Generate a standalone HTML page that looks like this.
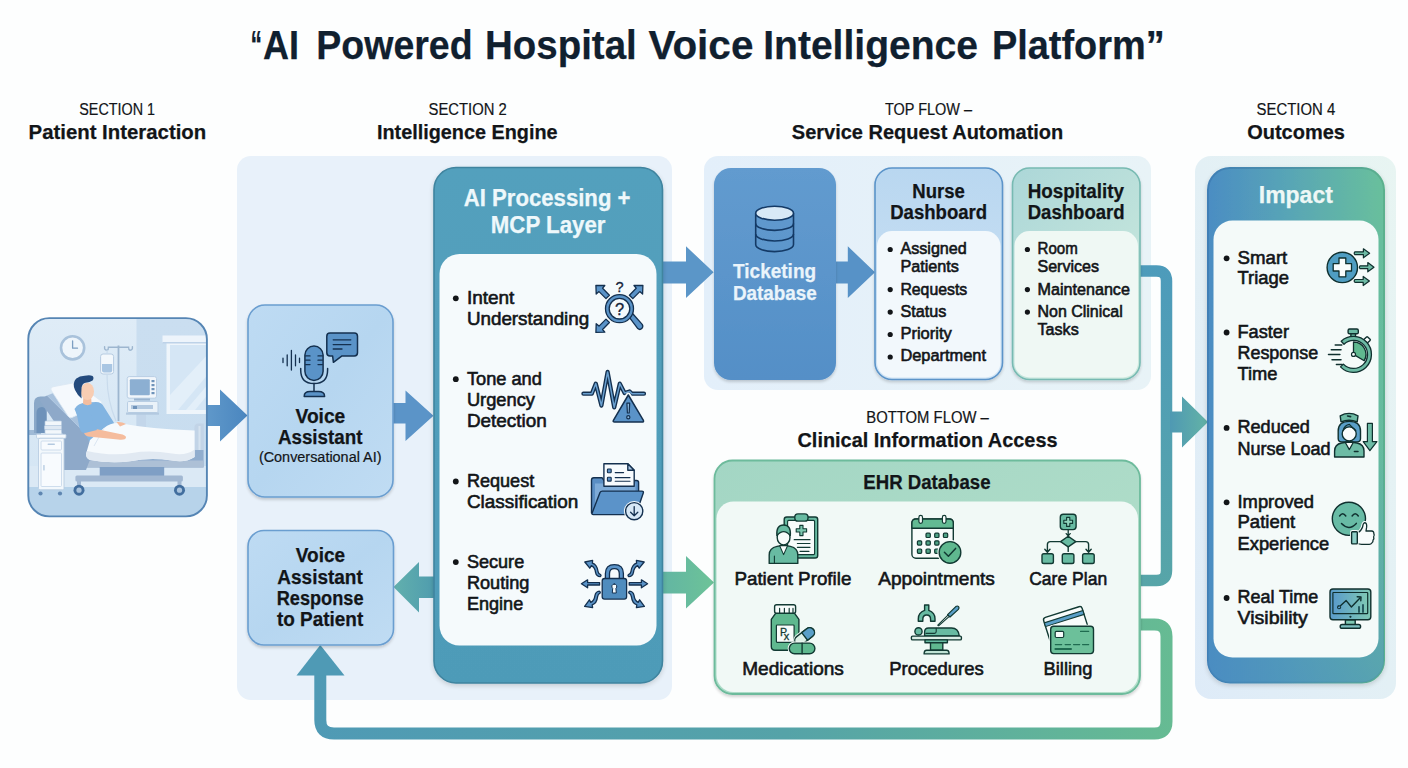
<!DOCTYPE html>
<html lang="en">
<head>
<meta charset="utf-8">
<title>AI Powered Hospital Voice Intelligence Platform</title>
<style>
html,body{margin:0;padding:0;background:#fdfefe;}
body{width:1408px;height:768px;overflow:hidden;font-family:"Liberation Sans",sans-serif;}
svg{display:block;}
text{font-family:"Liberation Sans",sans-serif;}
.b{font-weight:700;}
.m{text-anchor:middle;}
.w{fill:#f4fafc;}
</style>
</head>
<body>
<svg width="1408" height="768" viewBox="0 0 1408 768">
<!-- defs -->
<defs>
<linearGradient id="gAI" x1="0" y1="0" x2="0" y2="1"><stop offset="0" stop-color="#53a0bd"/><stop offset="1" stop-color="#4e9bb8"/></linearGradient>
<linearGradient id="gVoice" x1="0" y1="0" x2="1" y2="1"><stop offset="0" stop-color="#bedbf3"/><stop offset="0.5" stop-color="#b6d6f0"/><stop offset="1" stop-color="#c0dcf3"/></linearGradient>
<linearGradient id="gTick" x1="0" y1="0" x2="0" y2="1"><stop offset="0" stop-color="#629bcf"/><stop offset="1" stop-color="#548fc7"/></linearGradient>
<linearGradient id="gNurse" x1="0" y1="0" x2="0" y2="1"><stop offset="0" stop-color="#b9d7f0"/><stop offset="1" stop-color="#d0e4f5"/></linearGradient>
<linearGradient id="gHosp" x1="0" y1="0" x2="0.6" y2="1"><stop offset="0" stop-color="#acd7d8"/><stop offset="1" stop-color="#cbe9dd"/></linearGradient>
<linearGradient id="gEHR" x1="0" y1="0" x2="1" y2="1"><stop offset="0" stop-color="#a3d6c4"/><stop offset="1" stop-color="#b5e0cb"/></linearGradient>
<linearGradient id="gImpact" x1="0" y1="0" x2="1" y2="0"><stop offset="0" stop-color="#4b8dc3"/><stop offset="0.45" stop-color="#58a5b6"/><stop offset="1" stop-color="#69c09c"/></linearGradient>
<linearGradient id="gImpactV" x1="0" y1="0" x2="0" y2="1"><stop offset="0" stop-color="#4a8cc0" stop-opacity="0"/><stop offset="0.55" stop-color="#4a8cc0" stop-opacity="0.08"/><stop offset="1" stop-color="#4a8cc0" stop-opacity="0.55"/></linearGradient>
<linearGradient id="gImpactS" x1="0" y1="0" x2="1" y2="0"><stop offset="0" stop-color="#3f7fb6"/><stop offset="0.5" stop-color="#4d93a8"/><stop offset="1" stop-color="#5cb18d"/></linearGradient>
<linearGradient id="gArrB" x1="0" y1="0" x2="1" y2="0"><stop offset="0" stop-color="#5f98ca"/><stop offset="1" stop-color="#4a86bf"/></linearGradient>
<linearGradient id="gArrG" x1="0" y1="0" x2="1" y2="0"><stop offset="0" stop-color="#62b5a3"/><stop offset="1" stop-color="#6dc398"/></linearGradient>
<linearGradient id="gArrT" x1="0" y1="0" x2="1" y2="0"><stop offset="0" stop-color="#62b0ad"/><stop offset="1" stop-color="#4f9cae"/></linearGradient>
<linearGradient id="gArrI" x1="0" y1="0" x2="1" y2="0"><stop offset="0" stop-color="#4f99b3"/><stop offset="1" stop-color="#63b3a6"/></linearGradient>
<linearGradient id="gConn1" gradientUnits="userSpaceOnUse" x1="0" y1="265" x2="0" y2="586"><stop offset="0" stop-color="#4d9bbb"/><stop offset="1" stop-color="#57a5a8"/></linearGradient>
<linearGradient id="gConn2" gradientUnits="userSpaceOnUse" x1="314" y1="0" x2="1172" y2="0"><stop offset="0" stop-color="#4f9ab5"/><stop offset="0.55" stop-color="#55a3a8"/><stop offset="1" stop-color="#66bb93"/></linearGradient>
<linearGradient id="gPanelTop" x1="0" y1="0" x2="1" y2="0"><stop offset="0" stop-color="#e3effa"/><stop offset="1" stop-color="#e8f3f7"/></linearGradient>
<linearGradient id="gPanel4" x1="0" y1="1" x2="1" y2="0"><stop offset="0" stop-color="#deebf8"/><stop offset="1" stop-color="#e8f5f2"/></linearGradient>
<filter id="sh" x="-10%" y="-10%" width="120%" height="125%"><feGaussianBlur in="SourceAlpha" stdDeviation="2.5"/><feOffset dy="2"/><feComponentTransfer><feFuncA type="linear" slope="0.16"/></feComponentTransfer><feMerge><feMergeNode/><feMergeNode in="SourceGraphic"/></feMerge></filter>
<filter id="sh2" x="-10%" y="-10%" width="120%" height="125%"><feGaussianBlur in="SourceAlpha" stdDeviation="1.5"/><feOffset dy="1.5"/><feComponentTransfer><feFuncA type="linear" slope="0.18"/></feComponentTransfer><feMerge><feMergeNode/><feMergeNode in="SourceGraphic"/></feMerge></filter>
<linearGradient id="gWallL" x1="0" y1="0" x2="0" y2="1"><stop offset="0" stop-color="#dfecf7"/><stop offset="1" stop-color="#d2e4f3"/></linearGradient>
<linearGradient id="gWallR" x1="0" y1="0" x2="0" y2="1"><stop offset="0" stop-color="#cadef0"/><stop offset="1" stop-color="#c8ddef"/></linearGradient>
<clipPath id="cpPatient"><rect x="28" y="318" width="179" height="198" rx="21"/></clipPath>
</defs>
<!-- panels -->
<rect width="1408" height="768" fill="#fdfefe"/>
<rect x="237" y="156" width="435" height="544" rx="14" fill="#e8f1fa"/>
<rect x="704" y="156" width="447" height="234" rx="14" fill="url(#gPanelTop)"/>
<rect x="1195" y="156" width="201" height="543" rx="16" fill="url(#gPanel4)"/>
<!-- connectors -->
<!-- hospitality -> down -> care plan loop, with arrow to impact -->
<path d="M1140 271 H1156.5 Q1166.5 271 1166.5 281 V570.5 Q1166.5 580.5 1156.5 580.5 H1140" fill="none" stroke="url(#gConn1)" stroke-width="11.5"/>
<path d="M1170 411.5 H1182 V396.5 L1208 422 L1182 447.5 V432.5 H1170 Z" fill="url(#gArrI)"/>
<!-- EHR -> bottom loop -> response box -->
<path d="M1140 624.5 H1154.5 Q1166.5 624.5 1166.5 636.5 V721.5 Q1166.5 733.5 1154.5 733.5 H334 Q320.3 733.5 320.3 720 V672" fill="none" stroke="url(#gConn2)" stroke-width="12"/>
<path d="M320.3 645 L344.5 675.5 H296.5 Z" fill="#4f9ab5"/>
<!-- patient -> voice -->
<path d="M207 405 H220 V389.5 L247.5 415.5 L220 441.5 V426 H207 Z" fill="url(#gArrB)"/>
<!-- voice -> AI -->
<path d="M392 403 H405.5 V390.5 L433.5 415.8 L405.5 441 V423.5 H392 Z" fill="#5b94c8"/>
<!-- AI -> ticketing -->
<path d="M661 261.4 H686 V246.3 L713.6 272.2 L686 298 V283.5 H661 Z" fill="#5b96c8"/>
<!-- ticketing -> nurse -->
<path d="M834 261.4 H847.8 V246.3 L875 272.2 L847.8 298 V283.5 H834 Z" fill="#5792c7"/>
<!-- AI -> EHR -->
<path d="M661 571.8 H686 V556 L714 582.4 L686 608.6 V593.6 H661 Z" fill="url(#gArrG)"/>
<!-- AI -> response -->
<path d="M435 576.5 H419 V562 L393.5 587 L419 612.5 V598 H435 Z" fill="url(#gArrT)"/>
<!-- boxes -->
<!-- voice assistant -->
<rect x="248" y="305" width="145" height="192" rx="17" fill="url(#gVoice)" stroke="#6a9ed0" stroke-width="1.6" filter="url(#sh2)"/>
<rect x="248" y="530.5" width="145.5" height="114.5" rx="16" fill="url(#gVoice)" stroke="#6a9ed0" stroke-width="1.6" filter="url(#sh2)"/>
<!-- AI processing -->
<rect x="434" y="167.5" width="228.5" height="515.5" rx="22" fill="url(#gAI)" stroke="#3f849f" stroke-width="1.6" filter="url(#sh)"/>
<rect x="439.5" y="254" width="217" height="391.5" rx="20" fill="#f5fafc"/>
<!-- ticketing -->
<rect x="714" y="168" width="122" height="212" rx="17" fill="url(#gTick)" filter="url(#sh2)"/>
<!-- nurse -->
<rect x="875" y="168" width="127.5" height="211.5" rx="17" fill="url(#gNurse)" stroke="#5b94c9" stroke-width="1.6" filter="url(#sh2)"/>
<rect x="877" y="231" width="123.5" height="146.5" rx="15" fill="#f2f8fc"/>
<!-- hospitality -->
<rect x="1012.5" y="168" width="127.5" height="211.5" rx="17" fill="url(#gHosp)" stroke="#77bab2" stroke-width="1.6" filter="url(#sh2)"/>
<rect x="1014.5" y="231" width="123.5" height="146.5" rx="15" fill="#eff8f4"/>
<!-- EHR -->
<rect x="714.5" y="460.5" width="425.5" height="233.5" rx="18" fill="url(#gEHR)" stroke="#6dbb9c" stroke-width="1.8" filter="url(#sh2)"/>
<rect x="716.5" y="501.5" width="421.5" height="190.5" rx="17" fill="#f1f9f6"/>
<!-- Impact -->
<rect x="1208" y="168" width="176" height="514.5" rx="22" fill="url(#gImpact)" stroke="url(#gImpactS)" stroke-width="2" filter="url(#sh)"/>
<rect x="1208" y="168" width="176" height="514.5" rx="22" fill="url(#gImpactV)"/>
<rect x="1213.5" y="220.5" width="165" height="437" rx="19" fill="#f4faf9"/>
<!-- text -->
<text y="59.4" font-size="40" font-weight="700" stroke="#10202f" stroke-width="0.25" fill="#10202f"><tspan x="250.4" textLength="11.5" lengthAdjust="spacingAndGlyphs">“</tspan><tspan x="263" textLength="36" lengthAdjust="spacingAndGlyphs">AI</tspan> <tspan x="316.3" textLength="156.3" lengthAdjust="spacingAndGlyphs">Powered</tspan> <tspan x="485" textLength="151.7" lengthAdjust="spacingAndGlyphs">Hospital</tspan> <tspan x="648.4" textLength="105" lengthAdjust="spacingAndGlyphs">Voice</tspan> <tspan x="763.2" textLength="214.8" lengthAdjust="spacingAndGlyphs">Intelligence</tspan> <tspan x="991.9" textLength="172.8" lengthAdjust="spacingAndGlyphs">Platform”</tspan></text>
<text x="79.3" y="114.5" font-size="16" stroke="#121518" stroke-width="0.2" fill="#121518" textLength="75.7" lengthAdjust="spacingAndGlyphs">SECTION 1</text>
<text x="28.6" y="138.8" font-size="21" font-weight="700" stroke="#121518" stroke-width="0.25" fill="#121518" textLength="177.6" lengthAdjust="spacingAndGlyphs">Patient Interaction</text>
<text x="428.6" y="114.5" font-size="16" stroke="#121518" stroke-width="0.2" fill="#121518" textLength="78.2" lengthAdjust="spacingAndGlyphs">SECTION 2</text>
<text x="377" y="138.8" font-size="21" font-weight="700" stroke="#121518" stroke-width="0.25" fill="#121518" textLength="180.5" lengthAdjust="spacingAndGlyphs">Intelligence Engine</text>
<text x="885" y="114.5" font-size="16" stroke="#121518" stroke-width="0.2" fill="#121518" textLength="87" lengthAdjust="spacingAndGlyphs">TOP FLOW –</text>
<text x="791.8" y="138.8" font-size="21" font-weight="700" stroke="#121518" stroke-width="0.25" fill="#121518" textLength="271.5" lengthAdjust="spacingAndGlyphs">Service Request Automation</text>
<text x="1256.6" y="114.5" font-size="16" stroke="#121518" stroke-width="0.2" fill="#121518" textLength="78.6" lengthAdjust="spacingAndGlyphs">SECTION 4</text>
<text x="1247.2" y="138.8" font-size="21" font-weight="700" stroke="#121518" stroke-width="0.25" fill="#121518" textLength="97.8" lengthAdjust="spacingAndGlyphs">Outcomes</text>
<text x="866.3" y="422.5" font-size="16" stroke="#121518" stroke-width="0.2" fill="#121518" textLength="122.5" lengthAdjust="spacingAndGlyphs">BOTTOM FLOW –</text>
<text x="797.5" y="446.8" font-size="21" font-weight="700" stroke="#121518" stroke-width="0.25" fill="#121518" textLength="260" lengthAdjust="spacingAndGlyphs">Clinical Information Access</text>
<text x="863.3" y="489.3" font-size="20" font-weight="700" stroke="#121518" stroke-width="0.25" fill="#121518" textLength="127.2" lengthAdjust="spacingAndGlyphs">EHR Database</text>
<text x="295.5" y="422.6" font-size="20" font-weight="700" stroke="#121518" stroke-width="0.25" fill="#121518" textLength="49.8" lengthAdjust="spacingAndGlyphs">Voice</text>
<text x="277.9" y="444" font-size="20" font-weight="700" stroke="#121518" stroke-width="0.25" fill="#121518" textLength="84.6" lengthAdjust="spacingAndGlyphs">Assistant</text>
<text x="258.9" y="462.2" font-size="14" stroke="#121518" stroke-width="0.2" fill="#121518" textLength="122.6" lengthAdjust="spacingAndGlyphs">(Conversational AI)</text>
<text x="295.8" y="561.7" font-size="19.5" font-weight="700" stroke="#121518" stroke-width="0.25" fill="#121518" textLength="49.2" lengthAdjust="spacingAndGlyphs">Voice</text>
<text x="277.3" y="583.5" font-size="19.5" font-weight="700" stroke="#121518" stroke-width="0.25" fill="#121518" textLength="85.5" lengthAdjust="spacingAndGlyphs">Assistant</text>
<text x="276.7" y="604.7" font-size="19.5" font-weight="700" stroke="#121518" stroke-width="0.25" fill="#121518" textLength="86.8" lengthAdjust="spacingAndGlyphs">Response</text>
<text x="276.9" y="625.9" font-size="19.5" font-weight="700" stroke="#121518" stroke-width="0.25" fill="#121518" textLength="86.3" lengthAdjust="spacingAndGlyphs">to Patient</text>
<text x="463.8" y="205.8" font-size="23" font-weight="700" stroke="#eef8fb" stroke-width="0.25" fill="#eef8fb" textLength="166.7" lengthAdjust="spacingAndGlyphs">AI Processing +</text>
<text x="490.8" y="232.8" font-size="23" font-weight="700" stroke="#eef8fb" stroke-width="0.25" fill="#eef8fb" textLength="114.7" lengthAdjust="spacingAndGlyphs">MCP Layer</text>
<text x="466.9" y="303.8" font-size="18.5" stroke="#121518" stroke-width="0.6" fill="#121518" textLength="47.5" lengthAdjust="spacingAndGlyphs">Intent</text>
<text x="466.9" y="325" font-size="18.5" stroke="#121518" stroke-width="0.6" fill="#121518" textLength="122.3" lengthAdjust="spacingAndGlyphs">Understanding</text>
<text x="466.9" y="385" font-size="18.5" stroke="#121518" stroke-width="0.6" fill="#121518" textLength="75" lengthAdjust="spacingAndGlyphs">Tone and</text>
<text x="466.9" y="406.3" font-size="18.5" stroke="#121518" stroke-width="0.6" fill="#121518" textLength="68.1" lengthAdjust="spacingAndGlyphs">Urgency</text>
<text x="466.9" y="427.1" font-size="18.5" stroke="#121518" stroke-width="0.6" fill="#121518" textLength="79.8" lengthAdjust="spacingAndGlyphs">Detection</text>
<text x="466.9" y="487.1" font-size="18.5" stroke="#121518" stroke-width="0.6" fill="#121518" textLength="67.3" lengthAdjust="spacingAndGlyphs">Request</text>
<text x="466.9" y="507.9" font-size="18.5" stroke="#121518" stroke-width="0.6" fill="#121518" textLength="111.5" lengthAdjust="spacingAndGlyphs">Classification</text>
<text x="466.9" y="567.7" font-size="18.5" stroke="#121518" stroke-width="0.6" fill="#121518" textLength="57.3" lengthAdjust="spacingAndGlyphs">Secure</text>
<text x="466.9" y="588.8" font-size="18.5" stroke="#121518" stroke-width="0.6" fill="#121518" textLength="62.5" lengthAdjust="spacingAndGlyphs">Routing</text>
<text x="466.9" y="610" font-size="18.5" stroke="#121518" stroke-width="0.6" fill="#121518" textLength="56.3" lengthAdjust="spacingAndGlyphs">Engine</text>
<text x="733.1" y="278.4" font-size="20.4" font-weight="700" stroke="#eaf4fb" stroke-width="0.25" fill="#eaf4fb" textLength="83" lengthAdjust="spacingAndGlyphs">Ticketing</text>
<text x="732.9" y="299.9" font-size="20.4" font-weight="700" stroke="#eaf4fb" stroke-width="0.25" fill="#eaf4fb" textLength="84" lengthAdjust="spacingAndGlyphs">Database</text>
<text x="912.3" y="198.1" font-size="19.5" font-weight="700" stroke="#121518" stroke-width="0.25" fill="#121518" textLength="52.6" lengthAdjust="spacingAndGlyphs">Nurse</text>
<text x="890.2" y="219.3" font-size="19.5" font-weight="700" stroke="#121518" stroke-width="0.25" fill="#121518" textLength="97" lengthAdjust="spacingAndGlyphs">Dashboard</text>
<text x="900.4" y="254.4" font-size="16.4" stroke="#121518" stroke-width="0.6" fill="#121518" textLength="66.4" lengthAdjust="spacingAndGlyphs">Assigned</text>
<text x="900.4" y="272" font-size="16.4" stroke="#121518" stroke-width="0.6" fill="#121518" textLength="58.6" lengthAdjust="spacingAndGlyphs">Patients</text>
<text x="900.4" y="294.5" font-size="16.4" stroke="#121518" stroke-width="0.6" fill="#121518" textLength="66.8" lengthAdjust="spacingAndGlyphs">Requests</text>
<text x="900.4" y="316.9" font-size="16.4" stroke="#121518" stroke-width="0.6" fill="#121518" textLength="45.9" lengthAdjust="spacingAndGlyphs">Status</text>
<text x="900.4" y="339" font-size="16.4" stroke="#121518" stroke-width="0.6" fill="#121518" textLength="51.4" lengthAdjust="spacingAndGlyphs">Priority</text>
<text x="900.4" y="361.3" font-size="16.4" stroke="#121518" stroke-width="0.6" fill="#121518" textLength="85.6" lengthAdjust="spacingAndGlyphs">Department</text>
<text x="1027.7" y="198.1" font-size="19.5" font-weight="700" stroke="#121518" stroke-width="0.25" fill="#121518" textLength="96.4" lengthAdjust="spacingAndGlyphs">Hospitality</text>
<text x="1027.7" y="219.3" font-size="19.5" font-weight="700" stroke="#121518" stroke-width="0.25" fill="#121518" textLength="97" lengthAdjust="spacingAndGlyphs">Dashboard</text>
<text x="1037.5" y="254.4" font-size="16.4" stroke="#121518" stroke-width="0.6" fill="#121518" textLength="40.2" lengthAdjust="spacingAndGlyphs">Room</text>
<text x="1037.5" y="272" font-size="16.4" stroke="#121518" stroke-width="0.6" fill="#121518" textLength="61.5" lengthAdjust="spacingAndGlyphs">Services</text>
<text x="1037.5" y="294.5" font-size="16.4" stroke="#121518" stroke-width="0.6" fill="#121518" textLength="92.4" lengthAdjust="spacingAndGlyphs">Maintenance</text>
<text x="1037.5" y="316.9" font-size="16.4" stroke="#121518" stroke-width="0.6" fill="#121518" textLength="85.2" lengthAdjust="spacingAndGlyphs">Non Clinical</text>
<text x="1037.5" y="334.5" font-size="16.4" stroke="#121518" stroke-width="0.6" fill="#121518" textLength="41.2" lengthAdjust="spacingAndGlyphs">Tasks</text>
<text y="584.6" font-size="19" stroke="#121518" stroke-width="0.6" fill="#121518"><tspan x="734.4" textLength="117" lengthAdjust="spacingAndGlyphs">Patient Profile</tspan> <tspan x="878.2" textLength="116.7" lengthAdjust="spacingAndGlyphs">Appointments</tspan> <tspan x="1029.2" textLength="78" lengthAdjust="spacingAndGlyphs">Care Plan</tspan></text>
<text y="675" font-size="19" stroke="#121518" stroke-width="0.6" fill="#121518"><tspan x="742.2" textLength="101.7" lengthAdjust="spacingAndGlyphs">Medications</tspan> <tspan x="889.2" textLength="94.5" lengthAdjust="spacingAndGlyphs">Procedures</tspan> <tspan x="1043.5" textLength="49" lengthAdjust="spacingAndGlyphs">Billing</tspan></text>
<text x="1258.8" y="203.2" font-size="23.5" font-weight="700" stroke="#eef8f6" stroke-width="0.25" fill="#eef8f6" textLength="74" lengthAdjust="spacingAndGlyphs">Impact</text>
<text x="1237.5" y="263.5" font-size="18.5" stroke="#121518" stroke-width="0.6" fill="#121518" textLength="49.8" lengthAdjust="spacingAndGlyphs">Smart</text>
<text x="1237.5" y="284.4" font-size="18.5" stroke="#121518" stroke-width="0.6" fill="#121518" textLength="51.5" lengthAdjust="spacingAndGlyphs">Triage</text>
<text x="1237.5" y="337.7" font-size="18.5" stroke="#121518" stroke-width="0.6" fill="#121518" textLength="51.5" lengthAdjust="spacingAndGlyphs">Faster</text>
<text x="1237.5" y="358.5" font-size="18.5" stroke="#121518" stroke-width="0.6" fill="#121518" textLength="80.6" lengthAdjust="spacingAndGlyphs">Response</text>
<text x="1237.5" y="379.8" font-size="18.5" stroke="#121518" stroke-width="0.6" fill="#121518" textLength="40" lengthAdjust="spacingAndGlyphs">Time</text>
<text x="1237.5" y="433.1" font-size="18.5" stroke="#121518" stroke-width="0.6" fill="#121518" textLength="72.3" lengthAdjust="spacingAndGlyphs">Reduced</text>
<text x="1237.5" y="454.6" font-size="18.5" stroke="#121518" stroke-width="0.6" fill="#121518" textLength="93.1" lengthAdjust="spacingAndGlyphs">Nurse Load</text>
<text x="1237.5" y="507.5" font-size="18.5" stroke="#121518" stroke-width="0.6" fill="#121518" textLength="76.5" lengthAdjust="spacingAndGlyphs">Improved</text>
<text x="1237.5" y="528.3" font-size="18.5" stroke="#121518" stroke-width="0.6" fill="#121518" textLength="57.7" lengthAdjust="spacingAndGlyphs">Patient</text>
<text x="1237.5" y="549.8" font-size="18.5" stroke="#121518" stroke-width="0.6" fill="#121518" textLength="91.7" lengthAdjust="spacingAndGlyphs">Experience</text>
<text x="1237.5" y="603.2" font-size="18.5" stroke="#121518" stroke-width="0.6" fill="#121518" textLength="80.8" lengthAdjust="spacingAndGlyphs">Real Time</text>
<text x="1237.5" y="624.1" font-size="18.5" stroke="#121518" stroke-width="0.6" fill="#121518" textLength="70.3" lengthAdjust="spacingAndGlyphs">Visibility</text>
<circle cx="455.8" cy="298.3" r="2.9" fill="#121518"/>
<circle cx="455.8" cy="379.2" r="2.9" fill="#121518"/>
<circle cx="455.8" cy="481.5" r="2.9" fill="#121518"/>
<circle cx="455.8" cy="562.1" r="2.9" fill="#121518"/>
<circle cx="890.2" cy="249.5" r="2.6" fill="#121518"/>
<circle cx="890.2" cy="289.6" r="2.6" fill="#121518"/>
<circle cx="890.2" cy="312.1" r="2.6" fill="#121518"/>
<circle cx="890.2" cy="334.5" r="2.6" fill="#121518"/>
<circle cx="890.2" cy="357" r="2.6" fill="#121518"/>
<circle cx="1027.4" cy="249.5" r="2.6" fill="#121518"/>
<circle cx="1027.4" cy="289.6" r="2.6" fill="#121518"/>
<circle cx="1027.4" cy="312.1" r="2.6" fill="#121518"/>
<circle cx="1226.6" cy="258.3" r="2.9" fill="#121518"/>
<circle cx="1226.6" cy="332.5" r="2.9" fill="#121518"/>
<circle cx="1226.6" cy="427.9" r="2.9" fill="#121518"/>
<circle cx="1226.6" cy="502.3" r="2.9" fill="#121518"/>
<circle cx="1226.6" cy="598" r="2.9" fill="#121518"/>
<!-- patient -->
<g clip-path="url(#cpPatient)">
<!-- walls -->
<rect x="27" y="317" width="182" height="201" fill="url(#gWallL)"/>
<rect x="136.5" y="317" width="73" height="170" fill="url(#gWallR)"/>
<!-- floor -->
<rect x="27" y="466" width="182" height="22" fill="#dbe9f5"/>
<rect x="27" y="487" width="182" height="31" fill="#b7d3ea"/>
<!-- baseboard left shadow -->
<rect x="27" y="430" width="14" height="5" fill="#9fbad6"/>
<!-- clock -->
<circle cx="72.6" cy="347.8" r="11.6" fill="#eef5fb" stroke="#a9c2db" stroke-width="2.6"/>
<path d="M72.6 341 V348.2 H77.5" fill="none" stroke="#7d9fc2" stroke-width="1.3" stroke-linecap="round" stroke-linejoin="round"/>
<!-- window -->
<rect x="166.5" y="341" width="45" height="73" fill="#eef5fb"/>
<rect x="170" y="345" width="40" height="65" fill="#d5e6f5"/>
<path d="M170 395 L210 352 V372 L178 410 H170 Z" fill="#e3eff9"/>
<path d="M186 410 L210 382 V392 L195 410 Z" fill="#e3eff9"/>
<rect x="162.5" y="335.5" width="48" height="7.5" fill="#edf4fb"/>
<rect x="162.5" y="342" width="48" height="1.5" fill="#bdd2e8"/>
<!-- IV pole -->
<path d="M118.5 345.4 V421" stroke="#9db6cf" stroke-width="1.8" fill="none"/>
<path d="M104.6 346.6 Q104.2 350.4 107 350.2 Q108.6 349.8 108.4 347.3 H128.6 Q128.4 349.8 130 350.2 Q132.8 350.4 132.4 346.6" stroke="#9db6cf" stroke-width="1.4" fill="none" stroke-linecap="round"/>
<rect x="100.6" y="354" width="13" height="20" rx="2.5" fill="#f3f8fc" stroke="#b7cce2" stroke-width="1"/>
<path d="M102 364 H112.2 V370.5 Q112.2 372.6 110.2 372.6 H104 Q102 372.6 102 370.5 Z" fill="#a9c6e3"/>
<path d="M107.1 349.8 V354 M107.1 374 V378 Q107.1 400 116 421" stroke="#c9dbec" stroke-width="1.2" fill="none"/>
<!-- monitor -->
<rect x="136.5" y="412" width="9.5" height="15" fill="#c3d6ea"/>
<rect x="127.2" y="376.6" width="29.3" height="21.6" rx="2" fill="#f1f6fb" stroke="#b9cee4" stroke-width="1"/>
<rect x="129.8" y="379.2" width="20" height="16" rx="1" fill="#8cafd2"/>
<rect x="151.5" y="380" width="3" height="2.2" fill="#6f93ba"/><rect x="151.5" y="384" width="3" height="2.2" fill="#6f93ba"/><rect x="151.5" y="388" width="3" height="2.2" fill="#6f93ba"/><rect x="151.5" y="392" width="3" height="2.2" fill="#6f93ba"/>
<rect x="134" y="398.5" width="16" height="2" fill="#9ab4d0"/>
<rect x="127.5" y="401.5" width="30.5" height="11" rx="1.2" fill="#eaf2f9" stroke="#b9cee4" stroke-width="1"/>
<rect x="131" y="405" width="22" height="4" fill="#b3c9e0"/>
<rect x="133" y="406" width="4" height="3" fill="#6f93ba"/>
<rect x="126" y="412.5" width="33" height="2.2" fill="#b3c9e0"/>
<!-- bed headboard -->
<path d="M34 433 V403 Q34 396.5 40.5 396.5 H47 V433 Z" fill="#8aa8c8"/>
<path d="M36.5 433 V413 Q36.5 407 42 407 Q46 407 46 413 V433 Z" fill="#6e92ba"/>
<!-- footboard -->
<path d="M194.4 467 V427.5 Q194.4 423.4 198.5 423.4 H203.8 V467 Z" fill="#c2d4e7"/><path d="M199.5 426 V465" stroke="#d6e3f0" stroke-width="2" fill="none"/>
<!-- bed frame lower -->
<rect x="64" y="450" width="139.5" height="17.5" fill="#90adce"/>
<rect x="64" y="460.5" width="139.5" height="7" fill="#adc0d6"/>
<!-- inclined back -->
<path d="M39.5 400 L47 395.5 L96 444 L86 470 L64 470 L64 436 Z" fill="#8ea9c9"/>
<path d="M47 395.5 L56 392 L104 438 L96 444 Z" fill="#a9c2dd"/>
<!-- pillow -->
<path d="M51 390 Q50 387.5 53 386.8 L74 382.8 Q77 382.4 79 384.5 L101 401 Q103 403 100.5 404.5 L72 417.5 Q69.5 418.5 68 416 Z" fill="#f5f9fd" stroke="#dbe7f3" stroke-width="0.8"/>
<!-- base -->
<rect x="99.7" y="467" width="64.5" height="9" fill="#7f9fc5"/>
<rect x="75.4" y="475.6" width="107.5" height="5.8" rx="1.5" fill="#a2b8d2"/>
<rect x="77" y="480" width="4" height="7" fill="#a2b8d2"/><rect x="177.5" y="480" width="4" height="7" fill="#a2b8d2"/>
<circle cx="79" cy="490.2" r="5.5" fill="#426e9e"/><circle cx="79" cy="490.2" r="2.6" fill="#a9c3dd"/>
<circle cx="179.5" cy="490.2" r="5.5" fill="#426e9e"/><circle cx="179.5" cy="490.2" r="2.6" fill="#a9c3dd"/>
<!-- patient body -->
<path d="M74.5 409 Q78 402.5 87 402.5 L96 402 Q101.5 402 104 407 L113.5 422 L118 431 L92 446 L84 432 Z" fill="#82b4e1"/>
<!-- neck & head -->
<path d="M83.4 396 H91 L91.6 404 Q87.5 406.4 83 403.8 Z" fill="#f3bd9f"/>
<ellipse cx="87.4" cy="391.4" rx="6.6" ry="8.7" fill="#f8cdb3"/>
<path d="M81.6 398.4 Q77.6 395.6 75 390 Q72 383.4 76 378.8 Q79.6 376 84.6 375.8 Q89.6 374.4 92.6 376 Q94.4 378 92.6 380.4 Q89.8 382.4 85.6 382.8 Q82.2 383.6 81.6 387.6 Q81 392.4 81.6 398.4 Z" fill="#234a7d"/>
<!-- blanket -->
<path d="M104 428 Q112 421.5 122 423.5 Q150 429 194.6 430.5 V457 Q186 463 172 460.5 Q150 457.5 132 461 Q112 464 90 460 Q86 458.5 86 454 L90 440 Z" fill="#f6fafd"/>
<path d="M87 451 Q112 456.5 132 453 Q150 450 172 453.5 Q186 456 194.6 449.5 V457 Q186 463 172 460.5 Q150 457.5 132 461 Q112 464 90 460 Q86 458.5 86 454 Z" fill="#e1e9f2"/>
<path d="M104 428 L94 446" stroke="#dbe6f2" stroke-width="1" fill="none"/>
<!-- arm -->
<path d="M84 429.5 Q83 435 88 436.5 L118 439.5 Q125.5 440.5 126 437.5 Q126 435 120 434 L96 429 Z" fill="#f5bc9d"/>
<path d="M76 410 Q80 404 87 406 L97 430 L85 433 Q80.5 433 79.5 428 Z" fill="#82b4e1"/>
<path d="M116.5 422 Q122 421.5 126 424 L120 426.5 Z" fill="#f5bc9d"/>
<!-- nightstand -->
<rect x="45" y="421" width="16.5" height="4.5" rx="0.8" fill="#f2f7fb" stroke="#b9cde2" stroke-width="0.7"/>
<rect x="44.5" y="425.5" width="17" height="4.2" rx="0.8" fill="#dfe9f3" stroke="#b9cde2" stroke-width="0.7"/>
<rect x="45" y="429.7" width="16.5" height="4.6" rx="0.8" fill="#f2f7fb" stroke="#b9cde2" stroke-width="0.7"/>
<rect x="36.5" y="434.3" width="29.5" height="4" rx="1" fill="#f6fafd" stroke="#b9cde2" stroke-width="0.8"/>
<rect x="38.5" y="438.3" width="25.5" height="51.5" rx="1.5" fill="#f3f8fc" stroke="#b9cde2" stroke-width="0.9"/>
<rect x="41" y="441" width="20.5" height="9" rx="1" fill="#f8fbfe" stroke="#c4d6e8" stroke-width="0.8"/>
<rect x="47.5" y="443.5" width="7.5" height="1.6" rx="0.8" fill="#b3c9e0"/>
<rect x="41" y="453" width="20.5" height="33.5" rx="1" fill="#f8fbfe" stroke="#c4d6e8" stroke-width="0.8"/>
<rect x="43.3" y="465" width="1.3" height="5.5" rx="0.6" fill="#b3c9e0"/>
<circle cx="40.5" cy="493.5" r="2.1" fill="#5f86b1"/><circle cx="60" cy="493.5" r="2.1" fill="#5f86b1"/>
</g>
<rect x="28.3" y="318.1" width="178.6" height="198.3" rx="21" fill="none" stroke="#5585b4" stroke-width="1.9"/>
<!-- icons_left -->
<g stroke="#14304f" stroke-width="1.5" stroke-linecap="round" stroke-linejoin="round" fill="#5a93c8">
<!-- microphone -->
<rect x="304.9" y="346" width="18.2" height="34.4" rx="9.1"/>
<path d="M305.6 355.9 H310 M305.6 360.2 H310 M305.6 364.6 H310 M318 355.9 H322.4 M318 360.2 H322.4 M318 364.6 H322.4" fill="none" stroke-width="1.3"/>
<path d="M300.7 368.6 V370 Q300.7 383.6 314 383.6 Q327.6 383.6 327.6 370 V368.6" fill="none"/>
<path d="M314 383.6 V391.5" fill="none"/>
<path d="M304.2 396.4 Q304.2 391.6 310 391.6 H318.5 Q324.6 391.6 324.6 396.4 Z"/>
<path d="M283 358.2 V362.6 M287.2 355 V365.8 M291.4 350.4 V370 M295.5 355 V365.8 M299.5 358.2 V362.6" fill="none" stroke-width="1.3"/>
<!-- speech bubble -->
<path d="M330 333 H354.3 Q357.5 333 357.5 336.2 V352.7 Q357.5 355.9 354.3 355.9 H342 L333.4 362.3 L332.6 355.9 H330 Q326.8 355.9 326.8 352.7 V336.2 Q326.8 333 330 333 Z"/>
<path d="M333.2 339.8 H350.8 M333.2 344.6 H350.8 M333.2 349 H342" fill="none" stroke-width="1.3"/>
</g>
<!-- database icon -->
<g stroke="#143a66" stroke-width="1.6" fill="none">
<path d="M755.7 213.2 V244.6 A18.9 7 0 0 0 793.5 244.6 V213.2"/>
<path d="M755.7 223.4 A18.9 7 0 0 0 793.5 223.4 M755.7 234 A18.9 7 0 0 0 793.5 234"/>
<ellipse cx="774.6" cy="213.2" rx="18.9" ry="7" fill="#d8e9f6"/>
</g>
<!-- intent understanding -->
<g stroke="#14304f" stroke-width="1.3" stroke-linejoin="round" stroke-linecap="round" fill="#5a93c8">
<path d="M629.2 317.2 L632.8 313.8 L642.2 324.4 Q643.6 326.6 641.8 328.6 Q639.8 330.4 637.8 328.6 Z"/>
<circle cx="619.5" cy="308.7" r="14"/>
<circle cx="619.5" cy="308.7" r="10.3" fill="#f3f9fc"/>
<path d="M595.9 285.3 L604.8 285.5 L602.6 288.2 L609.4 295.2 L606 298.6 L599 291.6 L596.2 294 Z"/>
<path d="M642.9 285.3 L634 285.5 L636.2 288.2 L629.4 295.2 L632.8 298.6 L639.8 291.6 L642.6 294 Z"/>
<path d="M595.9 332.4 L604.8 332.2 L602.6 329.5 L609.4 322.5 L606 319.1 L599 326.1 L596.2 323.7 Z"/>
</g>
<text x="619.5" y="315" font-size="16.5" text-anchor="middle" fill="#14233a" stroke="#14233a" stroke-width="0.3">?</text>
<text x="619.5" y="291.8" font-size="14.5" text-anchor="middle" fill="#14233a" stroke="#14233a" stroke-width="0.3">?</text>
<!-- tone & urgency -->
<g stroke-linecap="round" stroke-linejoin="round" fill="none">
<path id="wv" d="M583.4 393.7 H591.8 L595.8 383.6 L601.4 405.6 L607.6 371.9 L614.2 407.4 L619.8 383.6 L624.6 393 L629.6 391.4 L632 393.7 H644" stroke="#14304f" stroke-width="4.2"/>
<path d="M583.4 393.7 H591.8 L595.8 383.6 L601.4 405.6 L607.6 371.9 L614.2 407.4 L619.8 383.6 L624.6 393 L629.6 391.4 L632 393.7 H644" stroke="#6aa0d0" stroke-width="1.5"/>
<path d="M628.3 395 L643.4 420.4 Q644 422.1 642 422.1 H614.6 Q612.6 422.1 613.4 420.4 Z" fill="#5a93c8" stroke="#f4fafc" stroke-width="5"/>
<path d="M628.3 395 L643.4 420.4 Q644 422.1 642 422.1 H614.6 Q612.6 422.1 613.4 420.4 Z" fill="#5a93c8" stroke="#14304f" stroke-width="1.5"/>
<path d="M626.9 403.2 H629.7 L629.2 413 H627.4 Z" fill="#8db8de" stroke="#14304f" stroke-width="1.2"/>
<circle cx="628.3" cy="417.2" r="1.6" fill="#8db8de" stroke="#14304f" stroke-width="1.2"/>
</g>
<!-- request classification -->
<g stroke="#14304f" stroke-width="1.4" stroke-linejoin="round" stroke-linecap="round">
<path d="M591.5 513 V480 Q591.5 477.7 593.8 477.7 H602 L604 480.5 H636.5 Q638.6 480.5 638.6 482.6 V492" fill="#5a8ec4"/>
<path d="M595 510 V483.5 H635.5 V492" fill="#7eabd8" stroke="none"/>
<path d="M603.9 463.8 H627.8 L634.2 470.2 V486.3 H603.9 Z" fill="#f7fbfe"/>
<path d="M627.8 463.8 V470.2 H634.2 Z" fill="#a9c6e4"/>
<rect x="607.4" y="469" width="3.8" height="3.8" rx="0.7" fill="#5a8ec4" stroke-width="1.1"/>
<rect x="607.4" y="477.3" width="3.8" height="3.8" rx="0.7" fill="#5a8ec4" stroke-width="1.1"/>
<path d="M615.2 472.6 H623.6 M615.2 477.6 H630 M615.2 481.2 H630" fill="none" stroke-width="1.1"/>
<path d="M602.4 491.1 H641.8 Q644 491.1 643.2 493.2 L636.4 513 Q635.8 514.6 634 514.6 H593.4 Q591.4 514.6 592.2 512.8 L600 492.6 Q600.6 491.1 602.4 491.1 Z" fill="#5b93c9"/>
<circle cx="634.2" cy="511.2" r="8.6" fill="#d7e8f6" stroke="#f4fafc" stroke-width="3.4"/>
<circle cx="634.2" cy="511.2" r="8.6" fill="#d7e8f6"/>
<path d="M634.2 506.6 V515.6 M630.6 512.2 L634.2 515.8 L637.8 512.2" fill="none" stroke-width="1.3"/>
</g>
<!-- secure routing -->
<g stroke="#14304f" stroke-width="1.3" stroke-linejoin="round" stroke-linecap="round" fill="#5a93c8">
<path d="M605.4 579 V573.6 Q605.4 564.6 614.4 564.6 Q623.4 564.6 623.4 573.6 V579 H619.3 V573.8 Q619.3 568.7 614.4 568.7 Q609.5 568.7 609.5 573.8 V579 Z"/>
<rect x="602.2" y="578.5" width="24.4" height="20.6" rx="2.4" fill="#4f8cbe"/>
<path d="M614.3 584 A2.5 2.5 0 0 1 615.9 588.4 L616.3 593 H612.3 L612.7 588.4 A2.5 2.5 0 0 1 614.3 584 Z" fill="#f4fafc" stroke-width="1"/>
<!-- left/right arrows -->
<path d="M599.6 582.6 H587.6 V579.8 L581.4 583.8 L587.6 587.8 V585 H599.6 Z"/>
<path d="M629.2 582.6 H641.4 V579.8 L647.6 583.8 L641.4 587.8 V585 H629.2 Z"/>
<!-- squiggle arrows -->
<path d="M600.2 576.6 Q596.4 576.4 595.6 572.6 Q594.8 567 591.4 565.6 L589.8 568.2 L584.8 562 L592.6 560.4 L592.4 563.2 Q597 564.6 598 571.4 Q598.4 574 600.6 574.6 Q601.6 575.8 600.2 576.6 Z"/>
<path d="M628.8 576.6 Q632.6 576.4 633.4 572.6 Q634.2 567 637.6 565.6 L639.2 568.2 L644.2 562 L636.4 560.4 L636.6 563.2 Q632 564.6 631 571.4 Q630.6 574 628.4 574.6 Q627.4 575.8 628.8 576.6 Z"/>
<path d="M599.4 591.2 Q595.8 591.6 595 595.4 Q594.2 601 590.8 602.4 L589.4 599.8 L584.6 606.4 L592.6 607.6 L592.2 604.8 Q596.8 603.4 597.6 596.6 Q598 594 600 593.2 Q600.8 592 599.4 591.2 Z"/>
<path d="M629.6 591.2 Q633.2 591.6 634 595.4 Q634.8 601 638.2 602.4 L639.6 599.8 L644.4 606.4 L636.4 607.6 L636.8 604.8 Q632.2 603.4 631.4 596.6 Q631 594 629 593.2 Q628.2 592 629.6 591.2 Z"/>
</g>
<!-- icons_ehr -->
<g stroke="#123a33" stroke-width="1.4" stroke-linejoin="round" stroke-linecap="round" fill="#68bba2">
<!-- patient profile -->
<rect x="784.2" y="517" width="33.5" height="41" rx="2.6"/>
<rect x="787.6" y="520.4" width="27" height="34.2" rx="1" fill="#f8fcfb" stroke-width="1.1"/>
<rect x="794.8" y="513.9" width="13.2" height="7.2" rx="3.2"/>
<path d="M799.8 525.4 H803 V528.8 H806.6 V532 H803 V535.6 H799.8 V532 H796.2 V528.8 H799.8 Z" stroke-width="1.1" fill="#7cc8b0"/>
<path d="M794.2 539.7 H810 M797.4 543.5 H810 M797.4 547.3 H810 M800 551.3 H809" fill="none" stroke-width="1.2"/>
<path d="M769.2 563.4 V555 Q769.2 548 777 546.4 L783.6 545.2 L790.4 546.4 Q797.8 548 797.8 555 V563.4 Z"/>
<path d="M779.6 545.6 L783.6 554.6 L787.6 545.6 Z" fill="#f8fcfb" stroke-width="1.1"/>
<path d="M774.4 556 V563" fill="none" stroke-width="1.1"/>
<ellipse cx="783.6" cy="537.4" rx="6.4" ry="7.6" fill="#f8fcfb"/>
<path d="M776.9 535.6 Q776 525 783.6 525 Q791.2 525 790.3 535.6 Q787 531.6 783.6 531.6 Q780.2 531.6 776.9 535.6 Z"/>
<!-- appointments -->
<rect x="911.9" y="519" width="41.4" height="39.3" rx="4" fill="#f8fcfb"/>
<path d="M911.9 528.3 V523 Q911.9 519 915.9 519 H949.3 Q953.3 519 953.3 523 V528.3 Z" fill="#62ba93"/>
<rect x="918.9" y="515.4" width="3.6" height="8" rx="1.8" fill="#f8fcfb" stroke-width="1.2"/>
<rect x="942.4" y="515.4" width="3.6" height="8" rx="1.8" fill="#f8fcfb" stroke-width="1.2"/>
<g fill="#4fa386" stroke-width="1.2">
<rect x="926" y="533.2" width="4.3" height="4.3" rx="1"/><rect x="934.7" y="533.2" width="4.3" height="4.3" rx="1"/><rect x="943.4" y="533.2" width="4.3" height="4.3" rx="1"/>
<rect x="917.4" y="540.8" width="4.3" height="4.3" rx="1"/><rect x="926" y="540.8" width="4.3" height="4.3" rx="1"/><rect x="934.7" y="540.8" width="4.3" height="4.3" rx="1"/>
<rect x="917.4" y="549" width="4.3" height="4.3" rx="1"/><rect x="926" y="549" width="4.3" height="4.3" rx="1"/><rect x="934.7" y="549" width="4.3" height="4.3" rx="1"/>
</g>
<circle cx="950" cy="552.4" r="10.8" fill="#5fb88f" stroke="#f1f9f6" stroke-width="3.6"/>
<circle cx="950" cy="552.4" r="10.8" fill="#5fb88f"/>
<path d="M944.4 552.2 L948.4 556.2 L955.6 548.4" fill="none" stroke-width="1.5"/>
<!-- care plan -->
<rect x="1060.3" y="514.2" width="15.8" height="15.4" rx="3"/>
<path d="M1066.6 517.4 H1069.8 V520.2 H1072.6 V523.4 H1069.8 V526.4 H1066.6 V523.4 H1063.8 V520.2 H1066.6 Z" fill="#8fd3bc" stroke-width="1.1"/>
<path d="M1068.2 529.6 V535.4 M1066.2 533.6 L1068.2 535.8 L1070.2 533.6" fill="none" stroke-width="1.3"/>
<path d="M1060.6 541.6 H1050.4 Q1047.4 541.6 1047.4 544.6 V551.6 M1044.8 549.2 L1047.4 552.2 L1050 549.2" fill="none"/>
<path d="M1075.6 541.6 H1085.6 Q1088.6 541.6 1088.6 544.6 V551.6 M1086 549.2 L1088.6 552.2 L1091.2 549.2" fill="none"/>
<path d="M1068.2 546.8 V551.4" fill="none"/>
<path d="M1068.2 536.3 L1075.8 541.6 L1068.2 546.9 L1060.6 541.6 Z"/>
<rect x="1042" y="553.7" width="11.4" height="9.8" rx="1.8"/>
<rect x="1062.3" y="553.7" width="11.6" height="9.8" rx="1.8"/>
<rect x="1082.6" y="553.7" width="11.6" height="9.8" rx="1.8"/>
<!-- medications -->
<path d="M775.6 613.3 L771.3 619.4 V646.6 Q771.3 650.3 775 650.3 H795.2 Q798.9 650.3 798.9 646.6 V619.4 L794.6 613.3 Z" fill="#5fb88f"/>
<rect x="774.6" y="604.8" width="21" height="8.5" rx="2" fill="#f8fcfb"/>
<path d="M779.6 608.4 V613 M784.4 608.4 V613 M789.2 608.4 V613 M793 608.4 V613" fill="none" stroke-width="1.2"/>
<rect x="776.4" y="625" width="17.7" height="17.3" rx="0.8" fill="#f8fcfb" stroke-width="1.2"/>
<g transform="rotate(-38 804.5 636.4)"><rect x="793.4" y="631.7" width="22.4" height="9.6" rx="4.8" fill="#dff1e8" stroke="#f1f9f6" stroke-width="3.2"/><rect x="793.4" y="631.7" width="22.4" height="9.6" rx="4.8" fill="#dff1e8"/><path d="M804.6 631.7 H811 A4.8 4.8 0 0 1 811 641.3 H804.6 Z" fill="#5a9fc8"/></g>
<rect x="789.3" y="643.1" width="25.6" height="10.6" rx="5.3" fill="#5fb88f" stroke="#f1f9f6" stroke-width="3.2"/>
<rect x="789.3" y="643.1" width="25.6" height="10.6" rx="5.3" fill="#5fb88f"/>
<path d="M802.1 643.1 V653.7" fill="none"/>
<!-- procedures -->
<path d="M924.6 605 H928.8 V610.4 Q935 612.6 935 618.8 V621.2 H930.6 V619.4 Q930.6 615 926.7 615 Q922.8 615 922.8 619.4 V621.2 H918.3 V618.8 Q918.3 612.6 924.6 610.4 Z"/>
<path d="M937.8 625.2 L948.2 614.8 L949.6 616.2 L938.6 625.8 Z" fill="#f8fcfb" stroke-width="1.1"/>
<path d="M947.6 614.6 L955.8 606.6 Q957.4 605.4 958.6 606.6 Q959.6 608 958.4 609.4 L950 617 Z" fill="#5a9fc8" stroke-width="1.2"/>
<circle cx="918.5" cy="631.4" r="3.6"/>
<path d="M924.6 636 V632 Q924.6 628 928.6 628 H951.6 Q958.4 628 959.3 636 Z"/>
<path d="M926 633.4 H934.4 Q936.2 633.4 936.2 631.6 V628.2" fill="none" stroke-width="1.1"/>
<rect x="911.4" y="636.1" width="50" height="3.8" rx="1.2" fill="#dcefe7"/>
<rect x="925" y="639.9" width="22.4" height="2.8" fill="#68bba2"/>
<rect x="930.5" y="642.7" width="12.3" height="7.6" fill="#5fb88f"/>
<path d="M926.6 650.3 H946.6 Q949.1 650.3 949.1 653.9 H924.1 Q924.1 650.3 926.6 650.3 Z" fill="#bfe3d5"/>
<!-- billing -->
<g transform="rotate(-17.6 1065.5 623)">
<rect x="1045.4" y="611.6" width="40.4" height="25" rx="2.6" fill="#f8fcfb"/>
<rect x="1045.4" y="616.4" width="40.4" height="4" fill="#5a9fc8" stroke-width="1.1"/>
</g>
<rect x="1050.7" y="626.2" width="42.8" height="27.4" rx="3" fill="#6cc09a" stroke="#f1f9f6" stroke-width="3"/>
<rect x="1050.7" y="626.2" width="42.8" height="27.4" rx="3" fill="#6cc09a"/>
<rect x="1055.2" y="631.3" width="8.5" height="6.2" rx="1.2" fill="#f8fcfb" stroke-width="1.2"/>
<path d="M1080.6 631.4 H1088.6 M1055.4 644.6 H1061.6 M1065.2 644.6 H1070.4 M1073.6 644.6 H1079.6 M1082.6 644.6 H1088.6" fill="none" stroke="#1f6b50" stroke-width="1.4"/>
<path d="M1055.4 648.9 H1071" fill="none" stroke="#1f6b50" stroke-width="2"/>
</g>
<text x="780" y="635.8" font-size="10.6" fill="#123a33" stroke="#123a33" stroke-width="0.3">P</text>
<text x="783.8" y="640" font-size="11" fill="#123a33" stroke="#123a33" stroke-width="0.3">x</text>
<!-- icons_right -->
<defs>
<linearGradient id="gMon" x1="0" y1="0" x2="1" y2="0"><stop offset="0" stop-color="#5a9bcb"/><stop offset="1" stop-color="#7fc8b4"/></linearGradient>
</defs>
<g stroke="#10302f" stroke-width="1.4" stroke-linejoin="round" stroke-linecap="round" fill="#6dbba5">
<!-- smart triage -->
<circle cx="1342.3" cy="267.4" r="15.2" fill="#4f9dc2"/>
<path d="M1339 258 H1345.8 V263.7 H1351.5 V271 H1345.8 V276.8 H1339 V271 H1333.2 V263.7 H1339 Z" fill="#f8fcfc" stroke-width="1.3"/>
<path d="M1355 251.8 H1363.4 V248.8 L1369.6 253.2 L1363.4 257.8 V254.7 H1355 Q1353.4 253.2 1355 251.8 Z" stroke-width="1.2"/>
<path d="M1360.2 265.8 H1367.8 V262.6 L1374 267.2 L1367.8 271.8 V268.7 H1360.2 Q1358.6 267.2 1360.2 265.8 Z" stroke-width="1.2"/>
<path d="M1355 279.5 H1363.2 V276.4 L1369.4 280.9 L1363.2 285.5 V282.4 H1355 Q1353.4 280.9 1355 279.5 Z" stroke-width="1.2"/>
<!-- stopwatch -->
<rect x="1348.1" y="329" width="10.2" height="4.8" rx="1.4"/>
<rect x="1350.9" y="333.8" width="4.6" height="3" />
<rect x="1364.6" y="337.4" width="5" height="5" rx="0.8" transform="rotate(45 1367.1 339.9)" fill="#f8fcfc"/>
<path d="M1353.5 342 A12.4 12.4 0 0 1 1364.2 360.7 L1353.5 354.4 Z" fill="#5fb88f" stroke-width="1.3"/>
<path d="M1341.2 341.2 A18 18 0 1 1 1340.5 366.9 L1343.4 364.1 A14 14 0 1 0 1344 344.2 Z" stroke-width="1.3"/>
<circle cx="1353.5" cy="354.4" r="2" fill="#f8fcfc" stroke-width="1.2"/>
<path d="M1335.2 345 H1341.8 M1331.3 349.8 H1341 M1328.5 354.6 H1339.9 M1332 359.8 H1341 M1336.4 364.5 H1342.2" fill="none" stroke-width="1.5"/>
<!-- nurse -->
<path d="M1341.5 441.9 Q1338.2 441.9 1338.2 438.5 V431 Q1338.2 421.4 1349.3 421.4 Q1360.5 421.4 1360.5 431 V438.5 Q1360.5 441.9 1357.2 441.9 Z" fill="#5a9fc8"/>
<path d="M1341 421.8 L1340.2 415.8 Q1349.1 411 1358 415.8 L1357.2 421.8 Q1349.1 418.6 1341 421.8 Z"/>
<path d="M1347.6 416 L1350.6 416.6" fill="none" stroke-width="1.6"/>
<path d="M1334.6 457 V451 Q1334.6 444.4 1341.6 443 L1349.2 441.7 L1357 443 Q1364 444.4 1364 451 V457 Z"/>
<path d="M1345.2 442.3 L1349.3 449.6 L1353.4 442.3 Z" fill="#f8fcfc" stroke-width="1.2"/>
<path d="M1354.4 451.6 H1358" fill="none" stroke-width="1.5"/>
<circle cx="1349.2" cy="433.9" r="7" fill="#f8fcfc"/>
<path d="M1343 430.6 Q1344.6 425 1349.4 424.4 Q1353 428.4 1355.8 430.4" fill="none" stroke-width="1.2"/>
<path d="M1367.4 423.4 H1372.4 V441.7 H1376.9 L1369.9 450.7 L1363.2 441.7 H1367.4 Z" stroke-width="1.2"/>
<!-- smiley + thumb -->
<circle cx="1348.9" cy="518.8" r="16.6" fill="#68bba5"/>
<path d="M1339.6 516 Q1342.7 511.6 1345.8 516 M1352.1 516 Q1355.2 511.6 1358.3 516 M1341.5 523.6 Q1348.9 531.4 1356.3 523.4" fill="none" stroke-width="1.5"/>
<path d="M1357.3 533 Q1361 531.4 1362.6 527 Q1363 523 1364.8 522.6 Q1367.2 523.2 1366.6 527.4 L1366 531 H1371.6 Q1374 531.2 1373.8 533.4 Q1374.8 535.4 1373.6 536.8 Q1374.4 538.8 1373 540.2 Q1373.4 542.2 1371.6 543.2 Q1371 544.4 1369 544.3 H1361.6 Q1359 544.3 1357.3 543 Z" fill="#f8fcfc" stroke="#f4faf9" stroke-width="3.4"/>
<path d="M1357.3 533 Q1361 531.4 1362.6 527 Q1363 523 1364.8 522.6 Q1367.2 523.2 1366.6 527.4 L1366 531 H1371.6 Q1374 531.2 1373.8 533.4 Q1374.8 535.4 1373.6 536.8 Q1374.4 538.8 1373 540.2 Q1373.4 542.2 1371.6 543.2 Q1371 544.4 1369 544.3 H1361.6 Q1359 544.3 1357.3 543 Z" fill="#f8fcfc" stroke-width="1.3"/>
<rect x="1351.6" y="531.7" width="5.7" height="12.2" rx="0.8" fill="#8fd0c8" stroke="#f4faf9" stroke-width="3.2"/>
<rect x="1351.6" y="531.7" width="5.7" height="12.2" rx="0.8" fill="#8fd0c8"/>
<!-- monitor -->
<rect x="1345.4" y="619.8" width="9.8" height="4.8" fill="#7fc8b4"/>
<rect x="1340.2" y="624.5" width="20.4" height="3.8" rx="1.9" fill="#7cbfc0"/>
<rect x="1330" y="589" width="40.8" height="30.8" rx="3" fill="url(#gMon)"/>
<rect x="1332.9" y="592.5" width="34.8" height="21.2" rx="0.6" fill="url(#gMon)" stroke-width="1.2"/>
<path d="M1339.6 606.6 L1346.2 600.6 L1351.4 607 L1360 598" fill="none" stroke-width="1.4"/>
<path d="M1357.2 596.8 L1361 597 L1360.8 600.8" fill="none" stroke-width="1.4"/>
<rect x="1337.6" y="606" width="3" height="2.6" rx="0.6" fill="#5a9bcb" stroke-width="1"/>
<path d="M1359 606.8 V612 M1363 605 V612" fill="none" stroke-width="1.8" stroke="#1d4f57"/>
<circle cx="1350.3" cy="616.8" r="0.6" fill="#10302f" stroke-width="0.8"/>
</g>
</svg>
</body>
</html>
